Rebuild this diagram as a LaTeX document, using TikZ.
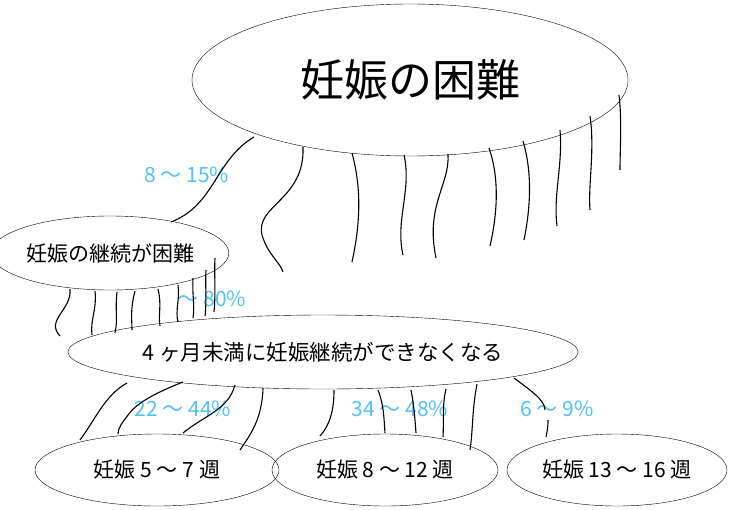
\documentclass[tikz,border=0pt]{standalone}
\usepackage{fontspec}
\setmainfont{Noto Sans CJK JP}
\usetikzlibrary{shapes.geometric}
\definecolor{rate}{HTML}{4FC3F7}

\begin{document}
\begin{tikzpicture}[x=1pt, y=-1pt,
    blob/.style={draw, ellipse, inner sep=0pt, font=\fontsize{21}{23}\selectfont},
    leg/.style={line width=1.1pt},
    rate/.style={text=rate, font=\fontsize{21}{23}\selectfont}
]
\useasboundingbox (0,0) rectangle (730,509);

% Heads
\node[blob, minimum width=436, minimum height=152, font=\fontsize{44}{48}\selectfont] (hard) at (410,80) {妊娠の困難};
\node[blob, minimum width=216, minimum height=74] (cont) at (110,253) {妊娠の継続が困難};
\node[blob, minimum width=455, minimum height=74, font=\fontsize{21.5}{23}\selectfont] (early) at (323,352) {4 ヶ月未満に妊娠継続ができなくなる};
\node[blob, minimum width=244, minimum height=72] (w5) at (157,470) {妊娠 5 〜 7 週};
\node[blob, minimum width=226, minimum height=72] (w8) at (385,470) {妊娠 8 〜 12 週};
\node[blob, minimum width=220, minimum height=72] (w13) at (617,470) {妊娠 13 〜 16 週};

% Rates
\node[rate] (r1) at (187,175) {8 〜 15\%};
\node[rate] (r2) at (212,299) {〜 80\%};
\node[rate] (r3) at (183,409) {22 〜 44\%};
\node[rate] (r4) at (400,409) {34 〜 48\%};
\node[rate] (r5) at (557,409) {6 〜 9\%};

% Legs of the top head
\draw[leg] (254,137) .. controls (215,160) and (215,205) .. (171,222);
\draw[leg] (303,147) .. controls (305,200) and (255,205) .. (262,235) .. controls (268,255) and (280,262) .. (283,272);
\draw[leg] (352,153) .. controls (362,190) and (360,225) .. (352,262);
\draw[leg] (404,155) .. controls (412,190) and (395,220) .. (403,255);
\draw[leg] (448,154) .. controls (450,185) and (425,205) .. (436,258);
\draw[leg] (489,148) .. controls (500,180) and (497,215) .. (490,246);
\draw[leg] (523,141) .. controls (533,175) and (530,210) .. (524,240);
\draw[leg] (560,130) .. controls (563,165) and (553,195) .. (557,226);
\draw[leg] (590,116) .. controls (595,150) and (588,185) .. (590,210);
\draw[leg] (619,95) .. controls (622,120) and (620,150) .. (620,170);

% Legs of the left head
\draw[leg] (70,289) .. controls (72,310) and (45,320) .. (60,336);
\draw[leg] (95,291) .. controls (97,310) and (90,320) .. (92,335);
\draw[leg] (117,292) .. controls (115,310) and (118,320) .. (115,333);
\draw[leg] (135,291) .. controls (130,310) and (132,320) .. (132,330);
\draw[leg] (158,289) .. controls (162,305) and (158,315) .. (160,326);
\draw[leg] (178,285) .. controls (180,300) and (175,310) .. (178,322);
\draw[leg] (193,278) .. controls (192,295) and (195,305) .. (193,318);
\draw[leg] (206,270) .. controls (205,285) and (207,300) .. (205,316);
\draw[leg] (215,258) .. controls (214,275) and (216,290) .. (214,312);

% Legs of the middle head
\draw[leg] (127,383) .. controls (105,395) and (95,420) .. (80,440);
\draw[leg] (183,382) .. controls (150,395) and (135,405) .. (128,415) .. controls (122,423) and (118,428) .. (118,434);
\draw[leg] (235,385) .. controls (228,410) and (205,415) .. (183,433);
\draw[leg] (263,388) .. controls (262,420) and (250,435) .. (240,450);
\draw[leg] (334,390) .. controls (334,410) and (330,425) .. (320,436);
\draw[leg] (378,390) .. controls (384,405) and (384,420) .. (385,433);
\draw[leg] (411,390) .. controls (414,405) and (415,420) .. (416,433);
\draw[leg] (446,389) .. controls (442,405) and (444,420) .. (443,437);
\draw[leg] (477,384) .. controls (472,410) and (473,430) .. (470,450);
\draw[leg] (514,378) .. controls (530,390) and (545,400) .. (545,410);
\draw[leg] (548,420) .. controls (548,428) and (547,432) .. (546,437);
\end{tikzpicture}
\end{document}
